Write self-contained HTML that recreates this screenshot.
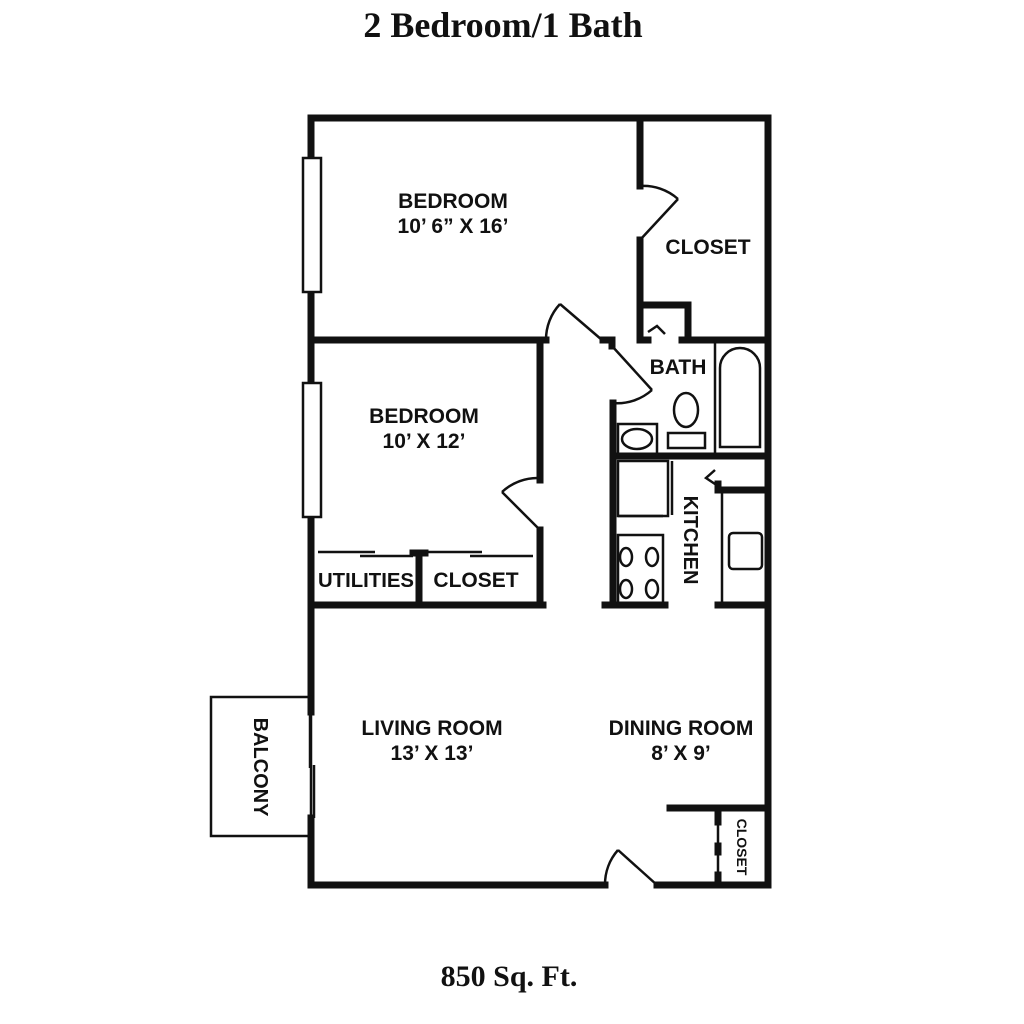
<!DOCTYPE html>
<html><head><style>
html,body{margin:0;padding:0;background:#fff;width:1024px;height:1024px;overflow:hidden}
svg{display:block}
.t{font-family:"Liberation Sans",sans-serif;font-weight:bold;fill:#111}
.s{font-family:"Liberation Serif",serif;font-weight:bold;fill:#111}
</style></head><body>
<svg width="1024" height="1024" viewBox="0 0 1024 1024" xmlns="http://www.w3.org/2000/svg">
<text class="s" x="503" y="37" font-size="36" text-anchor="middle">2 Bedroom/1 Bath</text>
<text class="s" x="509" y="986" font-size="30" text-anchor="middle">850 Sq. Ft.</text>

<g stroke="#111" stroke-width="7" fill="none" stroke-linecap="square">
<line x1="311" y1="118" x2="768" y2="118"/>
<line x1="768" y1="118" x2="768" y2="885"/>
<line x1="311" y1="118" x2="311" y2="712"/>
<line x1="311" y1="818" x2="311" y2="885"/>
<line x1="311" y1="885" x2="605" y2="885"/>
<line x1="657" y1="885" x2="768" y2="885"/>
<line x1="311" y1="340" x2="546" y2="340"/>
<line x1="603" y1="340" x2="612" y2="340"/>
<line x1="612" y1="340" x2="612" y2="346"/>
<line x1="640" y1="340" x2="648" y2="340"/>
<line x1="682" y1="340" x2="768" y2="340"/>
<line x1="640" y1="118" x2="640" y2="186"/>
<line x1="640" y1="240" x2="640" y2="340"/>
<line x1="640" y1="305" x2="688" y2="305"/>
<line x1="688" y1="305" x2="688" y2="340"/>
<line x1="540" y1="340" x2="540" y2="480"/>
<line x1="540" y1="530" x2="540" y2="605"/>
<line x1="311" y1="605" x2="543" y2="605"/>
<line x1="419" y1="555" x2="419" y2="605"/>
<line x1="413" y1="553" x2="425" y2="553"/>
<line x1="613" y1="403" x2="613" y2="605"/>
<line x1="613" y1="456" x2="768" y2="456"/>
<line x1="605" y1="605" x2="665" y2="605"/>
<line x1="718" y1="605" x2="768" y2="605"/>
<line x1="718" y1="490" x2="768" y2="490"/>
<line x1="718" y1="490" x2="718" y2="484"/>
<line x1="670" y1="808" x2="768" y2="808"/>
<line x1="718" y1="812" x2="718" y2="822"/>
<line x1="718" y1="875" x2="718" y2="885"/>
<line x1="718" y1="846" x2="718" y2="852"/>
</g>

<g stroke="#111" stroke-width="2.5" fill="none">
<rect x="303" y="158" width="18" height="134" fill="#fff"/>
<rect x="303" y="383" width="18" height="134" fill="#fff"/>
<rect x="211" y="697" width="100" height="139"/>
<line x1="310" y1="712" x2="310" y2="768"/>
<line x1="314" y1="765" x2="314" y2="818"/>
<line x1="640" y1="240" x2="678" y2="199"/>
<path d="M640 186 A52 52 0 0 1 678 199"/>
<line x1="602" y1="340" x2="560" y2="304"/>
<path d="M560 304 A52 52 0 0 0 546 340"/>
<line x1="540" y1="530" x2="502" y2="492"/>
<path d="M540 478 A52 52 0 0 0 502 492"/>
<line x1="612" y1="346" x2="652" y2="390"/>
<path d="M652 390 A52 52 0 0 1 613 403"/>
<line x1="657" y1="885" x2="618" y2="850"/>
<path d="M618 850 A52 52 0 0 0 605 885"/>
<path d="M648 332 L657 326 L665 334"/>
<line x1="318" y1="552" x2="375" y2="552"/>
<line x1="360" y1="556" x2="413" y2="556"/>
<line x1="425" y1="552" x2="482" y2="552"/>
<line x1="470" y1="556" x2="533" y2="556"/>
<line x1="715" y1="340" x2="715" y2="456"/>
<path d="M720 447 L720 368 A20 20 0 0 1 760 368 L760 447 Z"/>
<rect x="618" y="424" width="39" height="31"/>
<ellipse cx="637" cy="439" rx="15" ry="10"/>
<ellipse cx="686" cy="410" rx="12" ry="17"/>
<rect x="668" y="433" width="37" height="15"/>
<rect x="618" y="461" width="50" height="55"/>
<line x1="672" y1="461" x2="672" y2="515"/>
<line x1="618" y1="516" x2="663" y2="516"/>
<rect x="618" y="535" width="45" height="70"/>
<ellipse cx="626" cy="557" rx="6" ry="9"/>
<ellipse cx="652" cy="557" rx="6" ry="9"/>
<ellipse cx="626" cy="589" rx="6" ry="9"/>
<ellipse cx="652" cy="589" rx="6" ry="9"/>
<line x1="722" y1="493" x2="722" y2="605"/>
<rect x="729" y="533" width="33" height="36" rx="4"/>
<path d="M715 470 L706 478 L718 486"/>
<line x1="718" y1="822" x2="718" y2="875"/>
</g>

<g class="t" text-anchor="middle">
<text x="453" y="208" font-size="21">BEDROOM</text>
<text x="453" y="233" font-size="21">10’ 6” X 16’</text>
<text x="708" y="254" font-size="21">CLOSET</text>
<text x="424" y="423" font-size="21">BEDROOM</text>
<text x="424" y="448" font-size="21">10’ X 12’</text>
<text x="678" y="374" font-size="21">BATH</text>
<text x="366" y="587" font-size="20" textLength="96" lengthAdjust="spacingAndGlyphs">UTILITIES</text>
<text x="476" y="587" font-size="21">CLOSET</text>
<text x="432" y="735" font-size="21">LIVING ROOM</text>
<text x="432" y="760" font-size="21">13’ X 13’</text>
<text x="681" y="735" font-size="21">DINING ROOM</text>
<text x="681" y="760" font-size="21">8’ X 9’</text>
<text transform="translate(684,540) rotate(90)" font-size="20">KITCHEN</text>
<text transform="translate(254,767) rotate(90)" font-size="20">BALCONY</text>
<text transform="translate(737,847) rotate(90)" font-size="14">CLOSET</text>
</g>
</svg>
</body></html>
